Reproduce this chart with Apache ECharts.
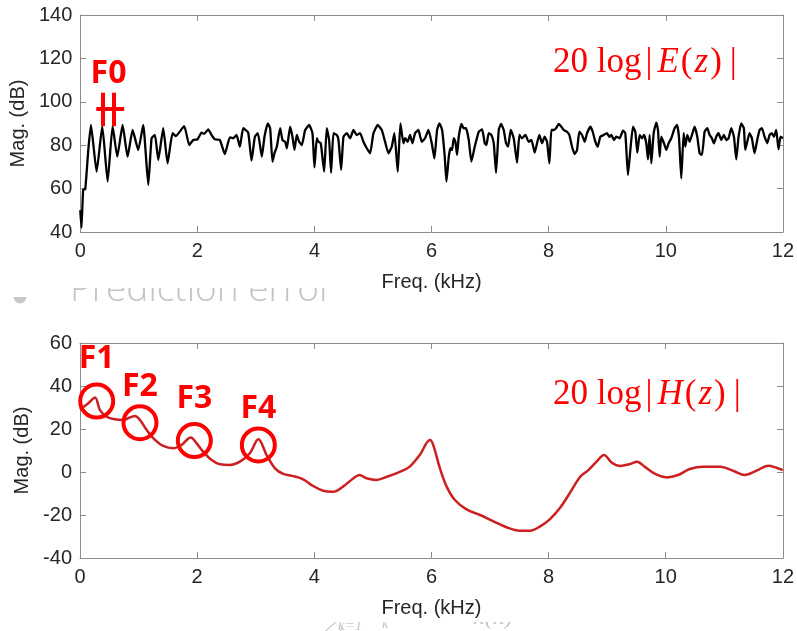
<!DOCTYPE html>
<html>
<head>
<meta charset="utf-8">
<script src="https://cdn.jsdelivr.net/npm/echarts@6/dist/echarts.min.js"></script>
<style>
  html, body { margin: 0; padding: 0; background: #ffffff; }
  #chart { width: 797px; height: 631px; }
</style>
</head>
<body>
<div id="chart"></div>
<script>
// Prediction-error spectrum 20log|E(z)| (kHz, dB)
const errFreq = [
  0, 0.02, 0.05, 0.085, 0.137, 0.182, 0.279, 0.376, 0.467, 0.552, 0.632, 0.723, 0.808, 0.894, 0.99, 1.075,
  1.161, 1.218, 1.275, 1.332, 1.417, 1.491, 1.576, 1.633, 1.775, 1.861, 1.929, 2.003, 2.071, 2.117, 2.185, 2.242,
  2.299, 2.384, 2.469, 2.555, 2.612, 2.669, 2.726, 2.783, 2.868, 2.925, 2.982,
  3.033, 3.101, 3.146, 3.203, 3.243, 3.283, 3.317, 3.357, 3.414, 3.454, 3.499, 3.528, 3.584, 3.624, 3.658, 3.698,
  3.738, 3.784, 3.841, 3.909, 3.966, 4.0, 4.04, 4.068, 4.108, 4.165, 4.21, 4.25, 4.284, 4.324, 4.381, 4.41,
  4.455, 4.495, 4.552, 4.609, 4.666, 4.722, 4.779, 4.836, 4.893, 4.95, 5.007, 5.081, 5.149, 5.206, 5.263, 5.32,
  5.365, 5.422, 5.468, 5.519, 5.548, 5.593, 5.633, 5.673, 5.718, 5.775, 5.832, 5.889, 5.946, 6.003, 6.048,
  6.094, 6.134, 6.18, 6.225, 6.254, 6.294, 6.322, 6.35, 6.379, 6.407, 6.436, 6.464, 6.51, 6.55, 6.589, 6.635,
  6.68, 6.737, 6.806, 6.863, 6.908, 6.936, 6.976, 7.022, 7.062, 7.101, 7.147, 7.187, 7.232, 7.272, 7.306, 7.352,
  7.403, 7.46, 7.5, 7.545, 7.602, 7.659, 7.705, 7.762, 7.801, 7.841, 7.887, 7.932, 7.972, 8.012, 8.046, 8.086,
  8.126, 8.171, 8.217, 8.257, 8.313, 8.353, 8.399, 8.444, 8.484, 8.524, 8.57, 8.615, 8.655, 8.712, 8.752, 8.797,
  8.837, 8.882, 8.939, 8.996, 9.036,
  9.07, 9.115, 9.155, 9.212, 9.269, 9.309, 9.354, 9.4, 9.44, 9.48, 9.514, 9.554, 9.593, 9.628, 9.667, 9.696,
  9.724, 9.753, 9.793, 9.838, 9.867, 9.895, 9.923, 9.969, 10.009, 10.049, 10.094, 10.151, 10.191, 10.225, 10.265, 10.305,
  10.333, 10.367, 10.407, 10.447, 10.492, 10.538, 10.578, 10.618, 10.663, 10.709, 10.749, 10.788, 10.822, 10.862, 10.902, 10.948,
  10.993, 11.033, 11.073, 11.118, 11.164, 11.204, 11.243, 11.289, 11.334, 11.357, 11.391, 11.431, 11.471, 11.516, 11.562, 11.602,
  11.642, 11.687, 11.733, 11.773, 11.812, 11.847, 11.886, 11.926, 11.96, 12.0
];
const errMag = [
  50, 42, 59.5, 59.7, 77.8, 89.3, 67.8, 88.8, 63.2, 88.8, 74.7, 89.3, 74.7, 87.0, 77.8, 89.3,
  61.7, 83.2, 84.7, 73.2, 87.8, 71.6, 85.5, 84.2, 88.8, 80.1, 82.4, 82.7, 85.8, 85.2, 87.3, 84.7,
  82.7, 82.4, 75.9, 83.6, 83.2, 84.7, 79.3, 87.8, 85.8, 72.9, 83.9,
  85.5, 74.7, 83.9, 90.1, 87.8, 72.4, 76.3, 79.3, 87.8, 82.4, 81.6, 78.6, 88.5, 83.9, 77.8, 84.7,
  81.6, 80.1, 87.0, 89.3, 85.5, 69.8, 83.2, 81.6, 80.9, 67.8, 87.8, 82.4, 67.3, 85.5, 84.7, 82.4,
  68.6, 83.9, 85.5, 83.2, 87.0, 84.7, 85.5, 81.6, 78.6, 76.3, 85.5, 89.3, 87.0, 81.6, 76.3, 79.3,
  85.5, 67.8, 90.1, 80.9, 83.2, 81.6, 84.7, 80.9, 85.5, 87.0, 81.6, 83.2, 87.0, 80.9, 73.9,
  87.0, 90.1, 87.0, 74.7, 63.2, 74.7, 78.6, 77.8, 83.2, 81.6, 75.5, 83.9, 89.8, 87.8, 87.8, 82.4,
  72.4, 79.3, 86.2, 87.3, 80.9, 80.1, 85.5, 84.7, 80.9, 67.3, 87.0, 89.8, 87.0, 80.9, 79.3, 87.0,
  83.2, 71.9, 84.7, 83.2, 84.7, 81.6, 82.4, 76.6, 80.9, 84.7, 80.9, 83.9, 81.6, 71.6, 87.0, 87.0,
  87.8, 89.8, 88.5, 87.0, 86.2, 84.7, 79.3, 75.9, 77.8, 86.2, 84.7, 81.6, 85.5, 88.5, 86.2, 81.6,
  79.3, 83.9, 84.7, 85.5, 83.9,
  84.7, 82.4, 83.9, 83.2, 86.7, 85.5, 66.3, 79.3, 88.5, 86.2, 76.6, 84.7, 83.2, 84.7, 80.9, 73.5,
  84.7, 71.6, 85.5, 90.4, 87.0, 74.7, 83.9, 80.9, 77.8, 80.9, 83.2, 87.8, 89.3, 83.9, 64.7, 85.5,
  79.3, 84.7, 81.6, 84.7, 88.5, 83.9, 76.3, 75.5, 86.2, 87.8, 84.7, 83.2, 80.9, 83.9, 85.5, 82.4,
  84.7, 82.4, 83.2, 87.8, 83.9, 73.5, 83.9, 90.1, 87.8, 77.8, 81.6, 85.5, 83.2, 76.3, 82.4, 87.0,
  87.8, 83.9, 80.9, 84.7, 85.5, 83.9, 87.0, 78.1, 83.9, 83.2
];

// Vocal-tract envelope 20log|H(z)| (kHz, dB)
const envFreq = [
  0, 0.029, 0.142, 0.256, 0.341, 0.456, 0.597, 0.74, 0.854, 0.939, 1.024, 1.138, 1.28, 1.42, 1.593, 1.736,
  1.89, 1.992, 2.105, 2.248, 2.39, 2.56, 2.73, 2.90, 3.045, 3.186, 3.33, 3.47, 3.64, 3.81, 3.98, 4.15,
  4.32, 4.49, 4.67, 4.77, 4.89, 5.06, 5.24, 5.46, 5.63, 5.80, 5.975, 6.03, 6.145, 6.26, 6.40, 6.60,
  6.83, 7.05, 7.28, 7.51, 7.68, 7.85, 8.02, 8.19, 8.36, 8.54, 8.68, 8.82, 8.945, 9.08, 9.22, 9.39,
  9.51, 9.64, 9.82, 10.02, 10.21, 10.41, 10.64, 10.93, 11.15, 11.35, 11.55, 11.75, 11.89, 12.0
];
const envMag = [
  29, 29.6, 32, 34.7, 28.8, 25.7, 24.5, 24.2, 25.4, 26.0, 24.2, 19.5, 14.9, 12.1, 11.0, 12.6,
  16.1, 13.3, 9.4, 5.6, 3.6, 3.3, 4.8, 8.7, 15.2, 7.9, 1.7, -0.9, -1.9, -3.4, -6.5, -8.7,
  -9.2, -6.8, -2.9, -1.4, -2.9, -3.7, -2.2, 0.1, 2.5, 7.9, 14.9, 12.6, 1.7, -6.8, -13.0, -17.4,
  -20.0, -22.8, -25.7, -27.3, -27.3, -25.4, -22.0, -16.9, -9.9, -2.2, 0.9, 4.8, 7.9, 4.3, 2.8, 3.7,
  4.8, 2.5, -0.9, -2.5, -1.4, 1.4, 2.5, 2.5, 0.6, -1.4, 0.6, 2.9, 2.0, 0.9
];

// Formant peaks F1..F4 on the envelope
const formantNames = ['F1', 'F2', 'F3', 'F4'];
const formantFreq = [0.285, 1.024, 1.952, 3.045];
const formantMag = [33.0, 22.9, 14.6, 12.6];

// F0 harmonic spacing marker (two harmonic bars and the connecting bar)
const f0Harmonics = [0.381, 0.569];
const f0BarTop = 104.2, f0BarBottom = 88.8, f0BarLevel = 97.0;
const f0BarSpan = [0.273, 0.751];

const AXIS = '#8c8c8c';
const TXT = '#262626';
const FONT = '"Liberation Sans", Arial, Helvetica, sans-serif';
const RED = '#ff0000';

const zip = (xs, ys) => xs.map((x, i) => [x, ys[i]]);

function xAxisFor(grid, pos, labeled) {
  return {
    type: 'value', gridIndex: grid, position: pos,
    min: 0, max: 12, interval: 2,
    axisLine: { show: true, onZero: false, lineStyle: { color: AXIS, width: 1 } },
    axisTick: { show: true, inside: true, length: 6, lineStyle: { color: AXIS } },
    axisLabel: { show: labeled, color: TXT, fontSize: 20, fontFamily: FONT, margin: 9 },
    splitLine: { show: false },
    name: labeled ? 'Freq. (kHz)' : '',
    nameLocation: 'middle', nameGap: 40,
    nameTextStyle: { color: TXT, fontSize: 20, fontFamily: FONT }
  };
}
function yAxisFor(grid, pos, labeled, min, max) {
  return {
    type: 'value', gridIndex: grid, position: pos,
    min: min, max: max, interval: 20,
    axisLine: { show: true, onZero: false, lineStyle: { color: AXIS, width: 1 } },
    axisTick: { show: true, inside: true, length: 6, lineStyle: { color: AXIS } },
    axisLabel: { show: labeled, color: TXT, fontSize: 20, fontFamily: FONT, margin: 8 },
    splitLine: { show: false },
    name: labeled ? 'Mag. (dB)' : '',
    nameLocation: 'middle', nameGap: 48,
    nameTextStyle: { color: TXT, fontSize: 20, fontFamily: FONT }
  };
}

const f0Lines = f0Harmonics.map(f => [{ coord: [f, f0BarTop] }, { coord: [f, f0BarBottom] }]);
f0Lines.push([{ coord: [f0BarSpan[0], f0BarLevel] }, { coord: [f0BarSpan[1], f0BarLevel] }]);

const labelLift = [-42, -36, -42, -36];
const formantData = formantFreq.map((f, i) => ({
  value: [f, formantMag[i]],
  label: { offset: [0, labelLift[i]] }
}));

const SERIF = '"Liberation Serif", "DejaVu Serif", serif';
const serifRich = {
  n: { fontFamily: SERIF, fontSize: 35, color: RED },
  i: { fontFamily: SERIF, fontSize: 35, fontStyle: 'italic', color: RED, padding: [0, 2, 0, 2] },
  b: { fontFamily: SERIF, fontSize: 35, color: RED, padding: [0, 3, 0, 4] },
  c: { fontFamily: SERIF, fontSize: 35, color: RED, padding: [0, 0, 0, 8] }
};

const FAINT = '#c4c4c4';
const option = {
  backgroundColor: '#ffffff',
  animation: false,
  grid: [
    { left: 80, top: 15, width: 703, height: 217 },
    { left: 80, top: 343, width: 703, height: 215 }
  ],
  xAxis: [
    xAxisFor(0, 'bottom', true), xAxisFor(0, 'top', false),
    xAxisFor(1, 'bottom', true), xAxisFor(1, 'top', false)
  ],
  yAxis: [
    yAxisFor(0, 'left', true, 40, 140), yAxisFor(0, 'right', false, 40, 140),
    yAxisFor(1, 'left', true, -40, 60), yAxisFor(1, 'right', false, -40, 60)
  ],
  series: [
    {
      type: 'line', xAxisIndex: 0, yAxisIndex: 0,
      data: zip(errFreq, errMag),
      showSymbol: false, smooth: 0.15,
      lineStyle: { color: '#000000', width: 2.3 },
      markLine: {
        silent: true, symbol: ['none', 'none'],
        label: { show: false },
        lineStyle: { color: RED, width: 4, type: 'solid', opacity: 1 },
        data: f0Lines
      }
    },
    {
      type: 'line', xAxisIndex: 2, yAxisIndex: 2,
      data: zip(envFreq, envMag),
      showSymbol: false, smooth: 0.35,
      lineStyle: { color: '#cc1f1f', width: 2.5 }
    },
    {
      type: 'scatter', xAxisIndex: 2, yAxisIndex: 2,
      data: formantData,
      symbol: 'circle', symbolSize: 33, z: 5,
      itemStyle: { color: 'rgba(0,0,0,0)', borderColor: RED, borderWidth: 4, opacity: 1 },
      label: {
        show: true, position: 'inside',
        formatter: p => formantNames[p.dataIndex],
        color: RED, fontSize: 32, fontWeight: 'bold',
        fontFamily: '"Open Sans", "Noto Sans", sans-serif'
      }
    }
  ],
  graphic: [
    // faint slide text partly hidden behind the figures
    { type: 'text', x: 70, y: 290, z: -2,
      style: { text: 'Prediction error', fontSize: 37, fontFamily: '"Open Sans", sans-serif', fontWeight: 300, fill: FAINT, verticalAlign: 'middle' } },
    { type: 'circle', z: -2, shape: { cx: 20, cy: 297, r: 6.5 }, style: { fill: '#c9c9c9' } },
    { type: 'rect', z: -1, shape: { x: 0, y: 264, width: 40, height: 33 }, style: { fill: '#ffffff' } },
    { type: 'rect', z: -1, shape: { x: 40, y: 264, width: 305, height: 24 }, style: { fill: '#ffffff' } },

    { type: 'text', x: 296, y: 632, z: -2, style: { text: '−', fontSize: 26, fontFamily: '"DejaVu Sans", sans-serif', fill: FAINT, verticalAlign: 'bottom' } },
    { type: 'text', x: 321, y: 636, z: -2, style: { text: '∑', fontSize: 30, fontFamily: '"DejaVu Serif", serif', fill: FAINT, verticalAlign: 'bottom' } },
    { type: 'text', x: 338, y: 634, z: -2, style: { text: 'k=1', fontSize: 15, fontFamily: '"Liberation Serif", serif', fontStyle: 'italic', fill: FAINT, verticalAlign: 'bottom' } },
    { type: 'text', x: 370, y: 628, z: -2, style: { text: 'α', fontSize: 24, fontFamily: '"Liberation Serif", serif', fontStyle: 'italic', fill: FAINT, verticalAlign: 'bottom' } },
    { type: 'text', x: 382, y: 631, z: -2, style: { text: 'k', fontSize: 14, fontFamily: '"Liberation Serif", serif', fontStyle: 'italic', fill: FAINT, verticalAlign: 'bottom' } },
    { type: 'text', x: 474, y: 630, z: -2, style: { text: 'x(n)', fontSize: 24, fontFamily: '"Liberation Serif", serif', fontStyle: 'italic', fill: FAINT, verticalAlign: 'bottom' } },
    { type: 'rect', z: -1, shape: { x: 280, y: 592, width: 240, height: 30 }, style: { fill: '#ffffff' } },

    // annotations
    { type: 'text', x: 108.5, y: 74, z: 10,
      style: { text: 'F0', fontSize: 32, fontWeight: 'bold', fontFamily: '"Open Sans", "Noto Sans", sans-serif', fill: RED, align: 'center', verticalAlign: 'middle' } },
    { type: 'text', x: 553, y: 63, z: 10,
      style: { text: '{n|20 log}{b||}{i|E}{n|(}{i|z}{n|)}{c||}', rich: serifRich, fill: RED, verticalAlign: 'middle' } },
    { type: 'text', x: 553, y: 395, z: 10,
      style: { text: '{n|20 log}{b||}{i|H}{n|(}{i|z}{n|)}{c||}', rich: serifRich, fill: RED, verticalAlign: 'middle' } }
  ]
};

const chart = echarts.init(document.getElementById('chart'), null, { renderer: 'canvas' });
chart.setOption(option);
</script>
</body>
</html>
